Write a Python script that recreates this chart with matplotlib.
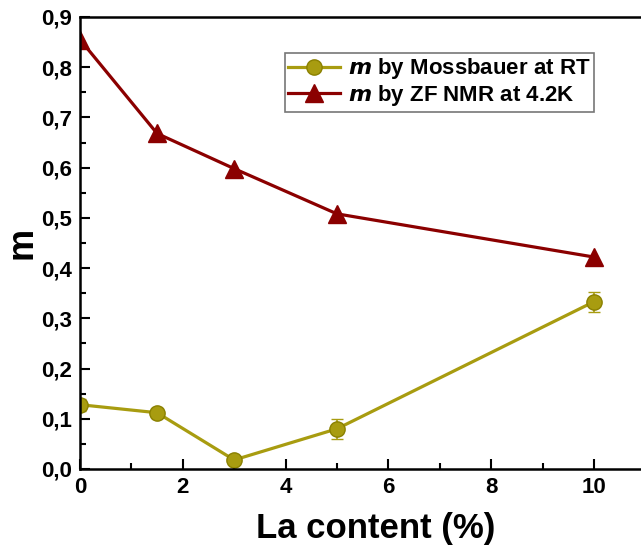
import numpy as np
import matplotlib
matplotlib.use('Agg')
from matplotlib import pyplot as plt
from matplotlib.ticker import FuncFormatter, MultipleLocator
from matplotlib.lines import Line2D

plt.rcParams['font.family'] = ['Liberation Sans', 'DejaVu Sans']
plt.rcParams['font.weight'] = 'bold'

# data
la = [0, 1.5, 3, 5, 10]
m_moss = [0.128, 0.112, 0.018, 0.080, 0.333]
m_moss_err = [0.012, 0.010, 0.008, 0.020, 0.020]
m_nmr = [0.855, 0.668, 0.598, 0.508, 0.422]
labels = [r'$\mathbf{\mathit{m}}$ by Mossbauer at RT', r'$\mathbf{\mathit{m}}$ by ZF NMR at 4.2K']

olive = '#a89c10'
darkred = '#8b0000'

fig = plt.figure(figsize=(6.41, 5.56), dpi=100)
ax = fig.add_axes([0.1248, 0.1565, 0.922, 0.813])

ax.errorbar(la, m_moss, yerr=m_moss_err, color=olive, lw=2.3, marker='o', ms=11,
            mfc=olive, mec='#8a8000', mew=1, ecolor=olive, elinewidth=1.2, capsize=4)
ax.plot(la, m_nmr, color=darkred, lw=2.3, marker='^', ms=13, mfc=darkred, mec=darkred)

ax.set_xlim(0, 11.5)
ax.set_ylim(0, 0.9)
ax.xaxis.set_major_locator(MultipleLocator(2))
ax.xaxis.set_minor_locator(MultipleLocator(1))
ax.yaxis.set_major_locator(MultipleLocator(0.1))
ax.yaxis.set_minor_locator(MultipleLocator(0.05))
ax.yaxis.set_major_formatter(FuncFormatter(lambda v, p: f'{v:.1f}'.replace('.', ',')))
ax.tick_params(which='both', direction='in', width=1.5, labelsize=16)
ax.tick_params(which='major', length=7, pad=6)
ax.tick_params(which='minor', length=4)
for s in ax.spines.values():
    s.set_linewidth(1.8)

ax.set_xlabel('La content (%)', fontsize=25, fontweight='bold', labelpad=10)
ax.set_ylabel('m', fontsize=26, fontweight='bold', labelpad=1)

handles = [Line2D([], [], color=olive, lw=2.3, marker='o', ms=11, mfc=olive, mec='#8a8000'),
           Line2D([], [], color=darkred, lw=2.3, marker='^', ms=13, mfc=darkred, mec=darkred)]
leg = ax.legend(handles, labels, loc='upper left', bbox_to_anchor=(0.347, 0.92), fontsize=16,
                frameon=True, fancybox=False, edgecolor='#555555', handlelength=2.3,
                borderpad=0.15, labelspacing=0.08, handletextpad=0.4, borderaxespad=0)
leg.get_frame().set_linewidth(1.2)
for t in leg.get_texts():
    t.set_fontweight('bold')

fig.savefig('out.png', dpi=100)
